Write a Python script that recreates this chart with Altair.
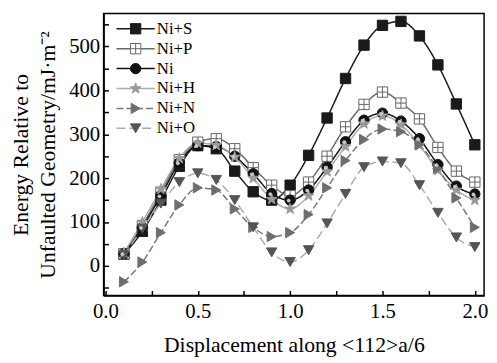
import altair as alt
import pandas as pd

# ---------------- data ----------------
x_vals = [0.1, 0.2, 0.3, 0.4, 0.5, 0.6, 0.7, 0.8, 0.9, 1.0,
          1.1, 1.2, 1.3, 1.4, 1.5, 1.6, 1.7, 1.8, 1.9, 2.0]
series_names = ["Ni+S", "Ni+P", "Ni", "Ni+H", "Ni+N", "Ni+O"]
ni_s = [27, 79, 150, 227, 274, 267, 216, 169, 150, 184, 252, 337, 427, 503, 548, 557, 524, 458, 369, 276]
ni_p = [28, 92, 168, 242, 282, 290, 267, 224, 184, 160, 191, 250, 317, 368, 396, 371, 335, 270, 216, 191]
ni   = [28, 88, 160, 235, 274, 272, 250, 210, 165, 150, 173, 225, 283, 332, 348, 330, 290, 231, 182, 164]
ni_h = [30, 100, 175, 245, 280, 275, 248, 200, 152, 130, 160, 215, 272, 324, 342, 322, 275, 218, 173, 150]
ni_n = [-36, 9, 76, 139, 178, 173, 130, 88, 67, 76, 117, 178, 240, 288, 312, 306, 276, 222, 155, 88]
ni_o = [25, 85, 142, 191, 211, 196, 150, 88, 31, 9, 36, 97, 164, 225, 238, 234, 184, 121, 65, 43]
x_label_values = [0.0, 0.5, 1.0, 1.5, 2.0]
x_tick_values = [0.0, 0.25, 0.5, 0.75, 1.0, 1.25, 1.5, 1.75, 2.0]
y_label_values = [0, 100, 200, 300, 400, 500]
y_tick_values = [-50, 0, 50, 100, 150, 200, 250, 300, 350, 400, 450, 500, 550]

all_vals = [ni_s, ni_p, ni, ni_h, ni_n, ni_o]
rows = []
for name, vals in zip(series_names, all_vals):
    for xv, yv in zip(x_vals, vals):
        rows.append({"x": xv, "energy": yv, "series": name, "curve": "L:" + name})
df = pd.DataFrame(rows)
curve_names = ["L:" + n for n in series_names]

# ---------------- styles ----------------
FONT = "Liberation Serif"
CROSS_SQ = "M-1,-1H1V1H-1Z M0,-1V1 M-1,0H1"
STAR = ("M0,-1.1L0.26,-0.36L1.05,-0.34L0.42,0.14L0.65,0.89L0,0.44"
        "L-0.65,0.89L-0.42,0.14L-1.05,-0.34L-0.26,-0.36Z")
LEG_LINE = "M-3.7,0H3.7"
shapes = ["square", CROSS_SQ, "circle", STAR, "triangle-right", "triangle-down"]
fills = ["#1a1a1a", "#ffffff", "#111111", "#9a9a9a", "#6e6e6e", "#555555"]
strokes = ["#1a1a1a", "#666666", "#111111", "#9a9a9a", "#6e6e6e", "#555555"]
line_colors = ["#1a1a1a", "#6a6a6a", "#111111", "#ababab", "#777777", "#ababab"]
dashes = [[1, 0], [1, 0], [1, 0], [1, 0], [7, 3], [9, 4]]

xscale = alt.Scale(domain=[-0.01, 2.05], nice=False, zero=False)
yscale = alt.Scale(domain=[-67, 575], nice=False, zero=False)

LEG_X, LEG_Y, LEG_ROWPAD, LEG_SIZE = 24, 7, 2.2, 110

line_legend = alt.Legend(orient="none", legendX=LEG_X, legendY=LEG_Y, title=None,
                         symbolType=LEG_LINE, symbolSize=LEG_SIZE,
                         symbolStrokeWidth=1.5, rowPadding=LEG_ROWPAD,
                         labelExpr="'\u00a0'", labelFontSize=17, labelFont=FONT)
pt_legend = alt.Legend(orient="none", legendX=LEG_X, legendY=LEG_Y, title=None,
                       symbolSize=LEG_SIZE, rowPadding=LEG_ROWPAD, symbolStrokeWidth=1,
                       labelFont=FONT, labelFontSize=17, labelColor="black",
                       labelOffset=13)

base = alt.Chart(df)

lines = base.mark_line(interpolate="monotone", strokeWidth=1.5).encode(
    x=alt.X("x:Q", scale=xscale,
            axis=alt.Axis(values=x_label_values, format=".1f", ticks=False, tickSize=0,
                          labelPadding=5, grid=False, domainColor="black", domainWidth=1.5,
                          labelFont=FONT, labelFontSize=21, labelColor="black",
                          title="Displacement along <112>a/6", titleFont=FONT,
                          titleFontSize=22, titleFontWeight="normal", titleColor="black",
                          titlePadding=14)),
    y=alt.Y("energy:Q", scale=yscale,
            axis=alt.Axis(values=y_label_values, ticks=False, tickSize=0,
                          labelPadding=4, grid=False, domainColor="black", domainWidth=1.5,
                          labelFont=FONT, labelFontSize=21, labelColor="black",
                          title=["Energy Relative to", "Unfaulted Geometry/mJ·m⁻²"],
                          titleFont=FONT, titleFontSize=22, titleFontWeight="normal",
                          titleColor="black", titleLineHeight=28, titlePadding=9)),
    color=alt.Color("curve:N", scale=alt.Scale(domain=curve_names, range=line_colors),
                    legend=line_legend),
    strokeDash=alt.StrokeDash("curve:N", scale=alt.Scale(domain=curve_names, range=dashes),
                              legend=line_legend),
    detail="curve:N",
)

points = base.mark_point(size=110, strokeWidth=1, opacity=1, filled=True).encode(
    x=alt.X("x:Q", scale=xscale,
            axis=alt.Axis(orient="top", offset=-286, values=x_tick_values, labels=False,
                          domain=False, tickSize=5, tickColor="black", tickWidth=1.5,
                          grid=False, title=None)),
    y=alt.Y("energy:Q", scale=yscale,
            axis=alt.Axis(orient="right", offset=-386, values=y_tick_values, labels=False,
                          domain=False, tickSize=5, tickColor="black", tickWidth=1.5,
                          grid=False, title=None)),
    shape=alt.Shape("series:N", scale=alt.Scale(domain=series_names, range=shapes),
                    legend=pt_legend),
    fill=alt.Fill("series:N", scale=alt.Scale(domain=series_names, range=fills),
                  legend=pt_legend),
    stroke=alt.Stroke("series:N", scale=alt.Scale(domain=series_names, range=strokes),
                      legend=pt_legend),
)

# small light spot that gives the Ni markers their "ball" look
ni_spot = base.transform_filter(alt.datum.series == "Ni").mark_circle(
    size=14, color="#c8c8c8", opacity=1, xOffset=-1.5, yOffset=0.5
).encode(
    x=alt.X("x:Q", scale=xscale, axis=None),
    y=alt.Y("energy:Q", scale=yscale, axis=None),
)

chart = alt.layer(lines, points, ni_spot).resolve_axis(
    x="independent", y="independent"
).properties(
    width=386, height=286,
    autosize=alt.AutoSizeParams(type="none"),
    padding={"left": 97, "top": 3, "right": 5, "bottom": 66},
    background="white",
).configure_view(stroke="black", strokeWidth=1.5)

chart.save("out.html", embed_options={"renderer": "svg", "actions": False})
